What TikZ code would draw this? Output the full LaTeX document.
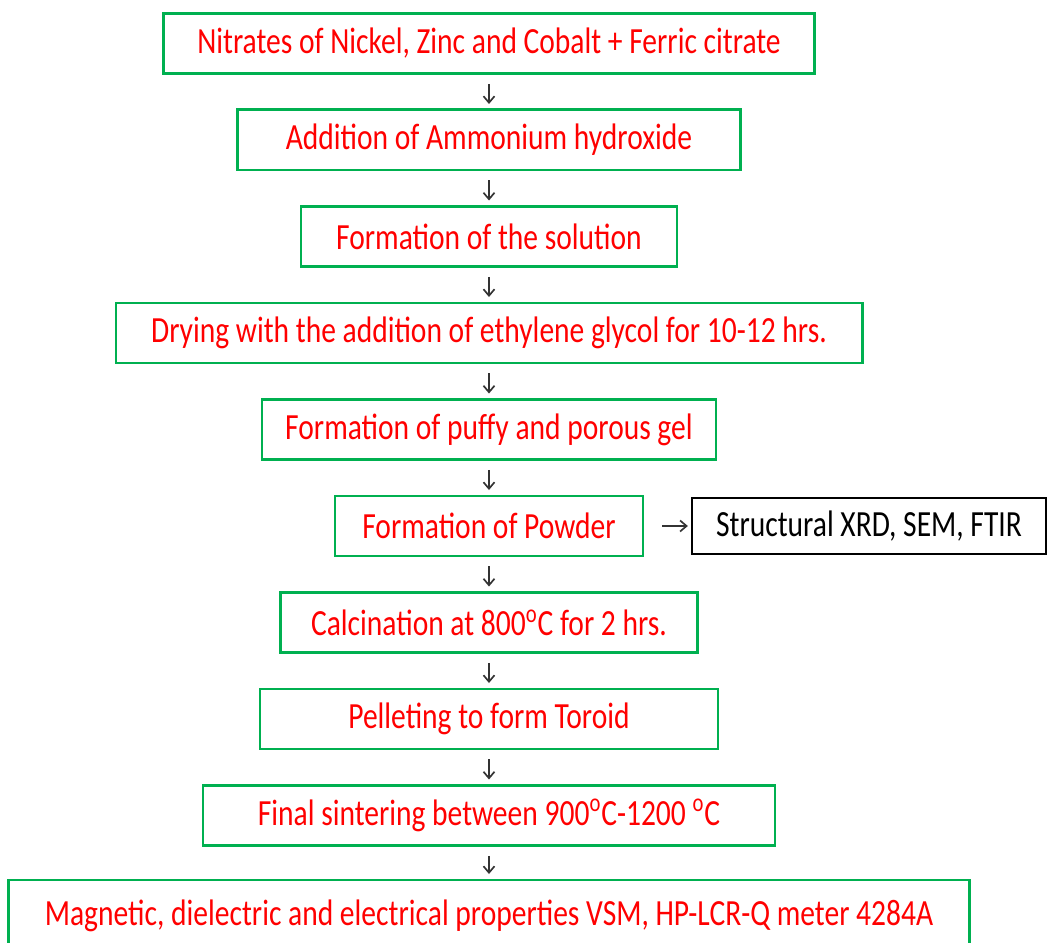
\documentclass[tikz,border=0pt]{standalone}
\usepackage{fontspec}
\setmainfont{Carlito}[FakeStretch=0.8]
\usepackage{tikz}
\usetikzlibrary{arrows.meta, positioning}
\definecolor{boxgreen}{RGB}{0,176,80}
\tikzstyle{block} = [rectangle, draw=boxgreen, line width=1.7pt, text=red, minimum height=1.2cm, inner sep=0pt, font=\fontsize{21}{25}\selectfont]
\tikzstyle{result} = [block, draw=black, line width=1.3pt, text=black, minimum height=1.12cm]
\tikzstyle{line} = [draw, black!80, line width=0.95pt, -{Straight Barb[length=1.3mm, width=2.2mm]}, shorten <=0.18cm, shorten >=0.09cm]

\begin{document}
\begin{tikzpicture}[node distance = 1.93cm, auto]
        \useasboundingbox (-9.78,0.87) rectangle (11.18,-17.99);
        % Nodes
        \node [block, minimum width=13.02cm] (nitrates) {Nitrates of Nickel, Zinc and Cobalt + Ferric citrate};
        \node [block, below of=nitrates, minimum width=10.06cm] (ammonia) {Addition of Ammonium hydroxide};
        \node [block, below of=ammonia, minimum width=7.52cm] (solution) {Formation of the solution};
        \node [block, below of=solution, minimum width=14.92cm] (drying) {Drying with the addition of ethylene glycol for 10-12 hrs.};
        \node [block, below of=drying, minimum width=9.08cm] (gel) {Formation of puffy and porous gel};
        \node [block, below of=gel, minimum width=6.16cm] (powder) {Formation of Powder};
        \node [result, right of=powder, node distance=7.6cm, minimum width=7.08cm] (xrd) {Structural XRD, SEM, FTIR};
        \node [block, below of=powder, minimum width=8.34cm] (calcine) {Calcination at 800\textsuperscript{o}C for 2 hrs.};
        \node [block, below of=calcine, minimum width=9.16cm] (pellet) {Pelleting to form Toroid};
        \node [block, below of=pellet, minimum width=11.44cm] (sinter) {Final sintering between 900\textsuperscript{o}C-1200 \textsuperscript{o}C};
        \node [block, below of=sinter, yshift=-0.07cm, minimum width=19.22cm, minimum height=1.42cm] (props) {Magnetic, dielectric and electrical properties VSM, HP-LCR-Q meter 4284A};

        % Lines
        \path [line] (nitrates) -- (ammonia);
        \path [line] (ammonia) -- (solution);
        \path [line] (solution) -- (drying);
        \path [line] (drying) -- (gel);
        \path [line] (gel) -- (powder);
        \path [line, shorten <=0.36cm, shorten >=0.06cm] (powder) -- (xrd);
        \path [line] (powder) -- (calcine);
        \path [line] (calcine) -- (pellet);
        \path [line] (pellet) -- (sinter);
        \path [line] (sinter) -- (props);
\end{tikzpicture}
\end{document}
